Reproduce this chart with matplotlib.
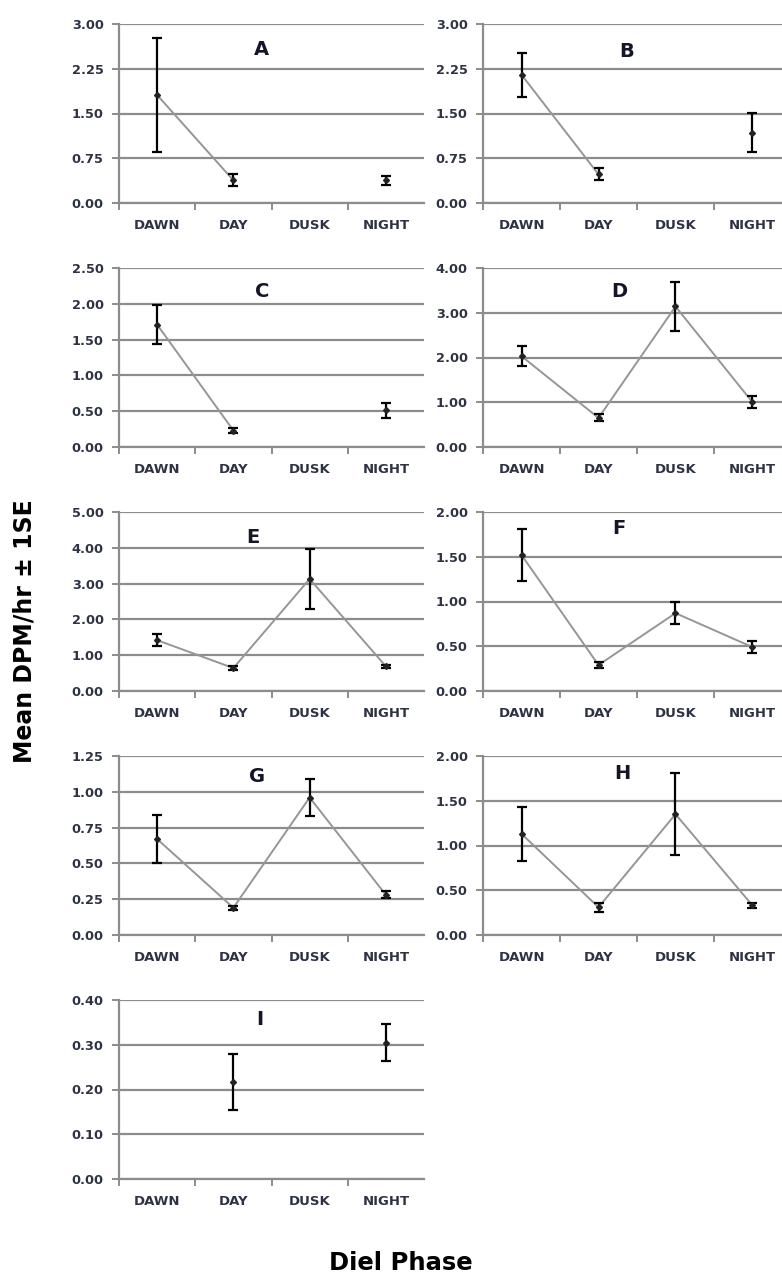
import matplotlib
matplotlib.use("Agg")
import matplotlib.pyplot as plt
import numpy as np

# ---------------- data ----------------
phases = ["DAWN", "DAY", "DUSK", "NIGHT"]
panel_names = ["A", "B", "C", "D", "E", "F", "G", "H", "I"]

mean_A = [1.81, 0.38, np.nan, 0.38]
se_A = [0.96, 0.10, np.nan, 0.08]
mean_B = [2.15, 0.48, np.nan, 1.18]
se_B = [0.37, 0.10, np.nan, 0.33]
mean_C = [1.71, 0.23, np.nan, 0.51]
se_C = [0.27, 0.03, np.nan, 0.10]
mean_D = [2.03, 0.65, 3.14, 1.00]
se_D = [0.22, 0.08, 0.54, 0.13]
mean_E = [1.42, 0.64, 3.13, 0.69]
se_E = [0.16, 0.05, 0.83, 0.05]
mean_F = [1.52, 0.29, 0.87, 0.49]
se_F = [0.29, 0.03, 0.12, 0.065]
mean_G = [0.67, 0.19, 0.96, 0.28]
se_G = [0.165, 0.015, 0.13, 0.025]
mean_H = [1.13, 0.31, 1.35, 0.33]
se_H = [0.30, 0.05, 0.46, 0.025]
mean_I = [np.nan, 0.217, np.nan, 0.305]
se_I = [np.nan, 0.063, np.nan, 0.041]

means = [mean_A, mean_B, mean_C, mean_D, mean_E, mean_F, mean_G, mean_H, mean_I]
ses = [se_A, se_B, se_C, se_D, se_E, se_F, se_G, se_H, se_I]

y_max = [3.0, 3.0, 2.5, 4.0, 5.0, 2.0, 1.25, 2.0, 0.40]
y_step = [0.75, 0.75, 0.5, 1.0, 1.0, 0.5, 0.25, 0.5, 0.10]

# ---------------- layout ----------------
W, H = 782, 1282
fig = plt.figure(figsize=(W / 100, H / 100), dpi=100)
fig.patch.set_facecolor("white")

col_x = [(119, 424), (483, 791)]
row_y = [(24, 203), (268, 447), (512, 691), (756, 935), (1000, 1179)]
title_pos = [(0.466, 0.855), (0.467, 0.845), (0.469, 0.866), (0.442, 0.866),
             (0.440, 0.855), (0.442, 0.910), (0.452, 0.888), (0.451, 0.905),
             (0.462, 0.890)]

grid_c = "#8c8c8c"
tick_c = "#2e3344"
x = np.arange(1, len(phases) + 1)

for i, name in enumerate(panel_names):
    r, c = divmod(i, 2)
    x0, x1 = col_x[c]
    y0, y1 = row_y[r]
    ax = fig.add_axes([x0 / W, 1 - y1 / H, (x1 - x0) / W, (y1 - y0) / H])
    ax.set_xlim(0.5, len(phases) + 0.5)
    ax.set_ylim(0, y_max[i])
    ticks = np.arange(0, y_max[i] + y_step[i] / 2, y_step[i])
    ax.set_yticks(ticks)
    ax.set_yticklabels([f"{t:.2f}" for t in ticks])
    ax.yaxis.grid(True, color=grid_c, lw=1.6)
    ax.set_axisbelow(True)
    for s in ["top", "right"]:
        ax.spines[s].set_visible(False)
    for s in ["left", "bottom"]:
        ax.spines[s].set_color(grid_c)
        ax.spines[s].set_linewidth(1.6)
    ax.spines["bottom"].set_zorder(0.5)

    ax.set_xticks(np.arange(0.5, len(phases) + 0.5, 1.0))
    ax.set_xticklabels([])
    ax.set_xticks(x, minor=True)
    ax.set_xticklabels(phases, minor=True)
    ax.tick_params(axis="x", which="major", direction="out", length=5,
                   width=1.4, color=grid_c)
    ax.tick_params(axis="x", which="minor", length=0, pad=11.5,
                   labelsize=9.5, labelcolor=tick_c)
    ax.tick_params(axis="y", direction="out", length=5, width=1.4,
                   color=grid_c, pad=6, labelsize=9.3, labelcolor=tick_c)
    for lab in ax.get_xticklabels(minor=True) + ax.get_yticklabels():
        lab.set_fontweight("semibold")

    m = np.array(means[i], dtype=float)
    e = np.array(ses[i], dtype=float)
    ax.plot(x, m, color="#969696", lw=1.4, zorder=3)
    ax.errorbar(x, m, yerr=e, fmt="none", ecolor="black", elinewidth=1.6,
                capsize=3.6, capthick=1.6, zorder=4)
    ax.plot(x, m, linestyle="none", marker="D", ms=3, color="#222222", zorder=5)

    tx, ty = title_pos[i]
    ax.text(tx, ty, name, transform=ax.transAxes, ha="center", va="center",
            fontsize=14, fontweight="bold", color="#15152a")

fig.text(25 / W, 1 - 631 / H, "Mean DPM/hr \u00b1 1SE", rotation=90,
         ha="center", va="center", fontsize=17, fontweight="bold",
         color="black")
fig.text(401 / W, 1 - 1263 / H, "Diel Phase", ha="center", va="center",
         fontsize=17.5, fontweight="bold", color="black")

fig.savefig("out.png", dpi=100)
